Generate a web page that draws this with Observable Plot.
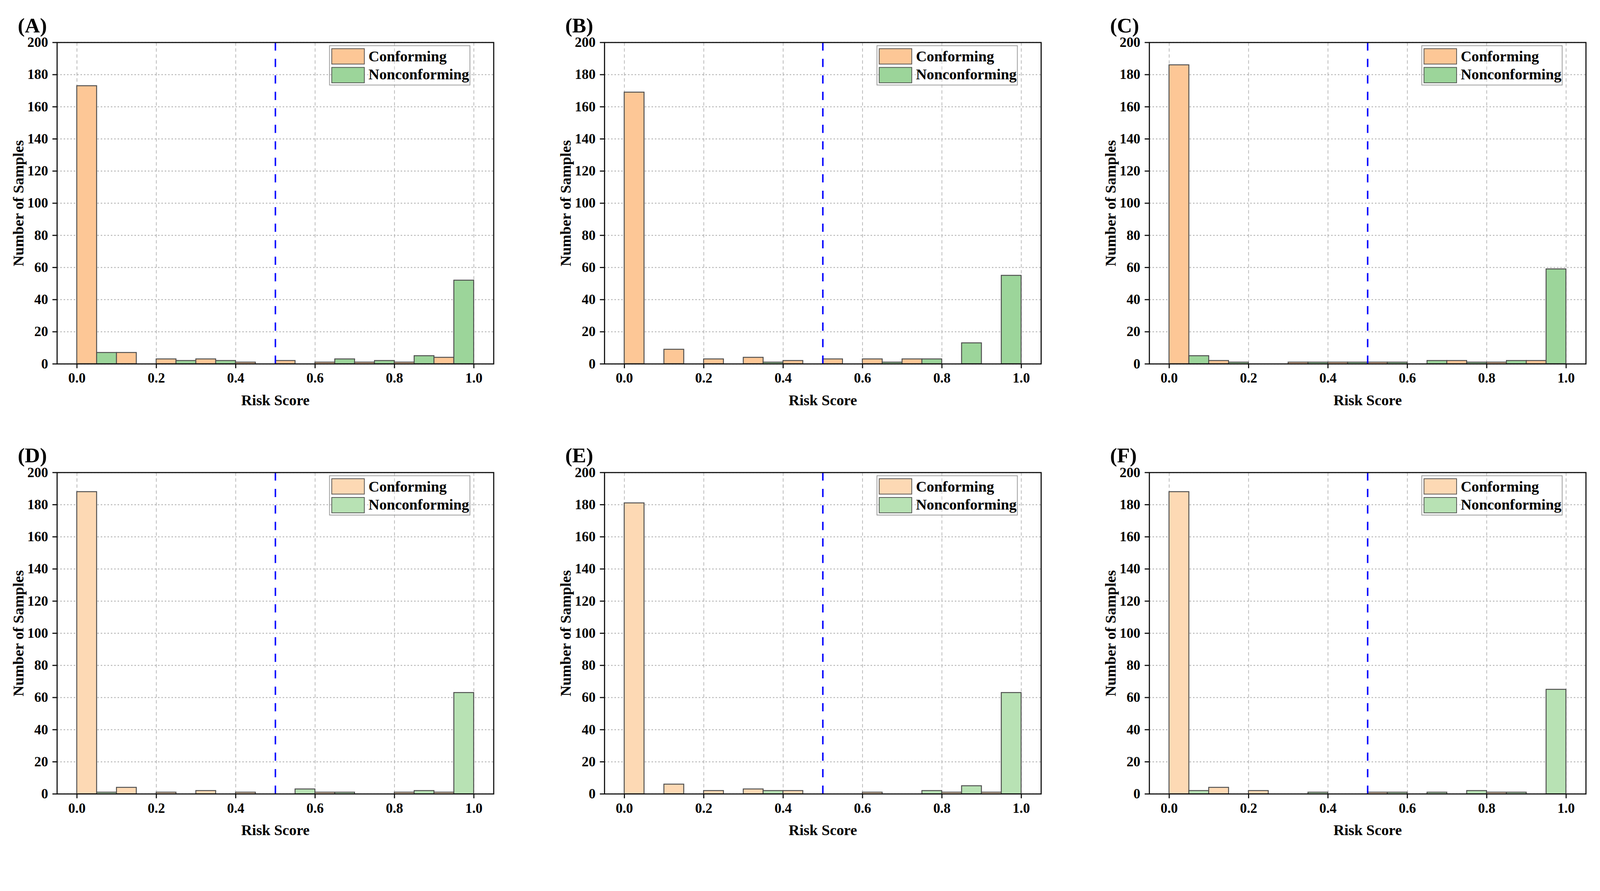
<!DOCTYPE html>
<html>
<head>
<meta charset="utf-8">
<script src="https://cdn.jsdelivr.net/npm/d3@7"></script>
<script src="https://cdn.jsdelivr.net/npm/@observablehq/plot@0.6"></script>
<style>
  html, body { margin: 0; padding: 0; background: #ffffff; overflow: hidden; }
  #fig { position: relative; width: 4273px; height: 2280px; background: #ffffff; transform-origin: 0 0;
         font-family: "Liberation Serif", "Times New Roman", serif; font-weight: bold; }
  .panel { position: absolute; width: 1418px; height: 1148px; }
  .panel svg { max-width: none !important; width: 1418px; height: 1148px; }
  .legend { position: absolute; width: 377px; height: 107px; box-sizing: border-box;
            border: 2px solid #9a9a9a; background: rgba(255,255,255,0.25); }
  .sw { position: absolute; left: 4px; width: 89px; height: 43px; box-sizing: border-box;
        border: 2px solid #555555; }
  .lt { position: absolute; left: 103px; font-size: 40px; line-height: 40px; color: #000; white-space: nowrap; }
</style>
</head>
<body>
<div id="fig"></div>
<script>
// ---- data ----
const panelLabels = ["(A)", "(B)", "(C)", "(D)", "(E)", "(F)"];
const seriesNames = ["Conforming", "Nonconforming"];
const binStarts = [0.0, 0.1, 0.2, 0.3, 0.4, 0.5, 0.6, 0.7, 0.8, 0.9];
const binWidth = 0.1;
const threshold = 0.5;

const conformingA    = [173, 7, 3, 3, 1, 2, 1, 1, 1, 4];
const nonconformingA = [7, 0, 2, 2, 0, 0, 3, 2, 5, 52];
const conformingB    = [169, 9, 3, 4, 2, 3, 3, 3, 0, 0];
const nonconformingB = [0, 0, 0, 1, 0, 0, 1, 3, 13, 55];
const conformingC    = [186, 2, 0, 1, 1, 1, 0, 2, 1, 2];
const nonconformingC = [5, 1, 0, 1, 1, 1, 2, 1, 2, 59];
const conformingD    = [188, 4, 1, 2, 1, 0, 1, 0, 1, 1];
const nonconformingD = [1, 0, 0, 0, 0, 3, 1, 0, 2, 63];
const conformingE    = [181, 6, 2, 3, 2, 0, 1, 0, 1, 1];
const nonconformingE = [0, 0, 0, 2, 0, 0, 0, 2, 5, 63];
const conformingF    = [188, 4, 2, 0, 0, 1, 0, 0, 1, 0];
const nonconformingF = [2, 0, 0, 1, 0, 1, 1, 2, 1, 65];

const xTicks = [0, 0.2, 0.4, 0.6, 0.8, 1.0];
const yTicks = [0, 20, 40, 60, 80, 100, 120, 140, 160, 180, 200];
const xLabel = "Risk Score";
const yLabel = "Number of Samples";

const topColors = ["#FDC796", "#9CD59A"];
const bottomColors = ["#FDD9B4", "#B8E2B4"];

// ---- layout ----
const conf = [conformingA, conformingB, conformingC, conformingD, conformingE, conformingF];
const nonc = [nonconformingA, nonconformingB, nonconformingC, nonconformingD, nonconformingE, nonconformingF];
const frameLeft = [152, 1614, 3069];
const rowTop = [0, 1148];
const FW = 1166, MT = 113, FH = 858;
const fontFam = '"Liberation Serif", "Times New Roman", serif';
const fig = document.getElementById("fig");

// fit the 4273x2280 figure into whatever viewport the browser really has
const fitScale = Math.min(window.innerWidth / 4273, window.innerHeight / 2280);
if (fitScale > 0 && Math.abs(fitScale - 1) > 0.001) fig.style.transform = `scale(${fitScale})`;

for (let i = 0; i < 6; i++) {
  const col = i % 3, row = Math.floor(i / 3);
  const colors = row === 0 ? topColors : bottomColors;
  const rows = [];
  binStarts.forEach((b, k) => {
    if (conf[i][k] > 0) rows.push({x1: b, x2: b + binWidth / 2, y: conf[i][k], s: seriesNames[0]});
    if (nonc[i][k] > 0) rows.push({x1: b + binWidth / 2, x2: b + binWidth, y: nonc[i][k], s: seriesNames[1]});
  });

  const plot = Plot.plot({
    width: 1418, height: 1148,
    marginLeft: 152, marginRight: 100, marginTop: MT, marginBottom: 1148 - MT - FH,
    x: {domain: [-0.05, 1.05]},
    y: {domain: [0, 200]},
    color: {domain: seriesNames, range: colors},
    style: {fontFamily: fontFam, fontWeight: "bold", background: "transparent", overflow: "visible",
            color: "#000", maxWidth: "none"},
    marks: [
      Plot.gridX(xTicks, {stroke: "#b8b8b8", strokeOpacity: 1, strokeWidth: 2, strokeDasharray: "9,7"}),
      Plot.gridY(yTicks, {stroke: "#b8b8b8", strokeOpacity: 1, strokeWidth: 2.5, strokeDasharray: "4,5"}),
      Plot.rectY(rows, {x1: "x1", x2: "x2", y: "y", fill: "s", stroke: "#4d4d4d", strokeWidth: 2.5}),
      Plot.ruleX([threshold], {y1: 0, y2: 200, stroke: "#0000ff", strokeWidth: 4, strokeDasharray: "22,22"}),
      Plot.frame({stroke: "#111111", strokeWidth: 3}),
      Plot.axisX(xTicks, {tickSize: 12, tickPadding: 12, tickFormat: d3.format(".1f"), fontSize: 37,
                          strokeWidth: 3, stroke: "#111", label: null, fill: "#000"}),
      Plot.axisY(yTicks, {tickSize: 12, tickPadding: 12, fontSize: 37, strokeWidth: 3, stroke: "#111",
                          label: null, fill: "#000"}),
      Plot.text([xLabel], {text: d => d, frameAnchor: "bottom", dy: 110, lineAnchor: "bottom",
                           textAnchor: "middle", fontSize: 40, fontWeight: "bold", fill: "#000"}),
      Plot.text([yLabel], {text: d => d, frameAnchor: "left", dx: -103, rotate: -90, lineAnchor: "middle",
                           textAnchor: "middle", fontSize: 40, fontWeight: "bold", fill: "#000"}),
      Plot.text([panelLabels[i]], {text: d => d, frameAnchor: "top-left", dx: -105, dy: -27,
                                   textAnchor: "start", lineAnchor: "bottom", fontSize: 56,
                                   fontWeight: "bold", fill: "#000"})
    ]
  });
  const wrap = document.createElement("div");
  wrap.className = "panel";
  wrap.style.left = (frameLeft[col] - 152) + "px";
  wrap.style.top = rowTop[row] + "px";
  wrap.appendChild(plot);
  fig.appendChild(wrap);

  // legend
  const lg = document.createElement("div");
  lg.className = "legend";
  lg.style.left = (frameLeft[col] + FW - 62 - 377) + "px";
  lg.style.top = (rowTop[row] + MT + 8) + "px";
  seriesNames.forEach((name, k) => {
    const sw = document.createElement("div");
    sw.className = "sw";
    sw.style.top = (6 + k * 50) + "px";
    sw.style.background = colors[k];
    lg.appendChild(sw);
    const t = document.createElement("div");
    t.className = "lt";
    t.style.top = (8 + k * 48) + "px";
    t.textContent = name;
    lg.appendChild(t);
  });
  fig.appendChild(lg);
}
</script>
</body>
</html>
